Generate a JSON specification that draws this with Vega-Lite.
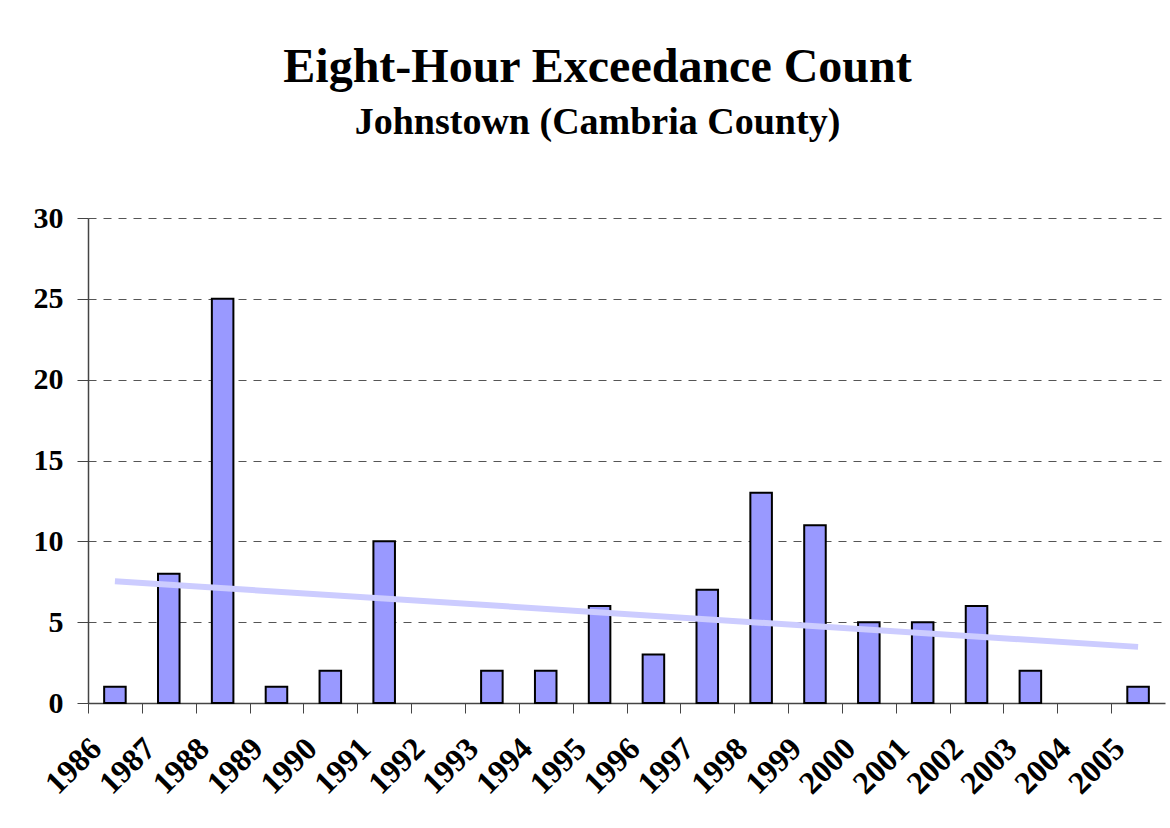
{
  "$schema": "https://vega.github.io/schema/vega-lite/v6.json",
  "width": 1077,
  "height": 485,
  "padding": {"left": 33, "top": 44, "right": 5, "bottom": 5},
  "background": "white",
  "title": {
    "text": "Eight-Hour Exceedance Count",
    "subtitle": "Johnstown (Cambria County)",
    "font": "Liberation Serif",
    "fontSize": 48,
    "fontWeight": "bold",
    "color": "black",
    "subtitleFont": "Liberation Serif",
    "subtitleFontSize": 38,
    "subtitleFontWeight": "bold",
    "subtitleColor": "black",
    "subtitlePadding": 12,
    "anchor": "middle",
    "dx": -29,
    "offset": 61
  },
  "data": {
    "values": [
      {"year": 1986, "count": 1},
      {"year": 1987, "count": 8},
      {"year": 1988, "count": 25},
      {"year": 1989, "count": 1},
      {"year": 1990, "count": 2},
      {"year": 1991, "count": 10},
      {"year": 1992, "count": 0},
      {"year": 1993, "count": 2},
      {"year": 1994, "count": 2},
      {"year": 1995, "count": 6},
      {"year": 1996, "count": 3},
      {"year": 1997, "count": 7},
      {"year": 1998, "count": 13},
      {"year": 1999, "count": 11},
      {"year": 2000, "count": 5},
      {"year": 2001, "count": 5},
      {"year": 2002, "count": 6},
      {"year": 2003, "count": 2},
      {"year": 2004, "count": 0},
      {"year": 2005, "count": 1}
    ]
  },
  "encoding": {
    "x": {
      "field": "year",
      "type": "ordinal",
      "title": null,
      "scale": {
        "domain": [1986, 1987, 1988, 1989, 1990, 1991, 1992, 1993, 1994, 1995, 1996, 1997, 1998, 1999, 2000, 2001, 2002, 2003, 2004, 2005],
        "paddingInner": 0.6,
        "paddingOuter": 0.3
      },
      "axis": {
        "labelAngle": -45,
        "labelAlign": "right",
        "labelBaseline": "middle",
        "labelFont": "Liberation Serif",
        "labelFontSize": 32,
        "labelFontWeight": "bold",
        "labelColor": "black",
        "labelPadding": 30,
        "labelOffset": -3,
        "labelOverlap": false,
        "bandPosition": 0,
        "tickOffset": -16.15,
        "tickSize": 10,
        "tickColor": "#444",
        "domainColor": "#444",
        "domainWidth": 1.5,
        "grid": false
      }
    },
    "y": {
      "field": "count",
      "type": "quantitative",
      "title": null,
      "scale": {"domain": [0, 30]},
      "axis": {
        "values": [0, 5, 10, 15, 20, 25, 30],
        "labelFont": "Liberation Serif",
        "labelFontSize": 30,
        "labelFontWeight": "bold",
        "labelColor": "black",
        "labelPadding": 14,
        "tickSize": 11,
        "tickColor": "#444",
        "domainColor": "#444",
        "domainWidth": 1.5,
        "grid": true,
        "gridDash": [8, 7],
        "gridColor": "#555",
        "gridWidth": 1.2
      }
    }
  },
  "layer": [
    {
      "transform": [{"filter": "datum.count > 0"}],
      "mark": {"type": "bar", "fill": "#9999FF", "stroke": "black", "strokeWidth": 2}
    },
    {
      "transform": [{"regression": "count", "on": "year"}],
      "mark": {"type": "line", "color": "#CCCCFF", "strokeWidth": 6}
    }
  ],
  "config": {
    "view": {"stroke": null}
  }
}
